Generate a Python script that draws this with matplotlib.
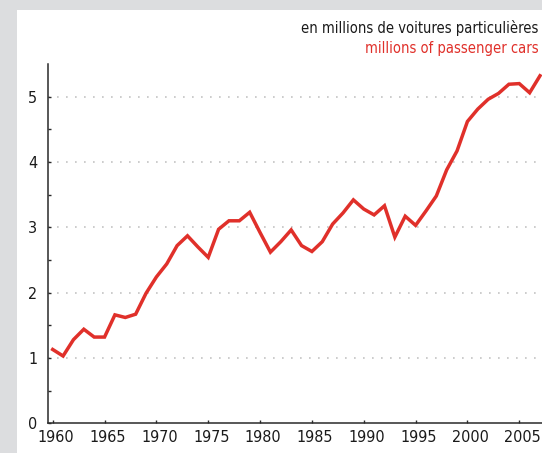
import numpy as np
import matplotlib
matplotlib.use("Agg")
import matplotlib.pyplot as plt
from matplotlib import font_manager
from matplotlib.transforms import ScaledTranslation

years = list(range(1960, 2008))
cars = [1.13, 1.03, 1.28, 1.44, 1.32, 1.32, 1.66, 1.62, 1.67, 1.99,
        2.24, 2.44, 2.72, 2.87, 2.70, 2.54, 2.97, 3.10, 3.10, 3.23,
        2.92, 2.62, 2.78, 2.96, 2.72, 2.63, 2.78, 3.05, 3.22, 3.42,
        3.28, 3.19, 3.33, 2.85, 3.17, 3.03, 3.25, 3.48, 3.88, 4.17,
        4.62, 4.81, 4.96, 5.05, 5.19, 5.20, 5.06, 5.32]
x_ticks = list(range(1960, 2006, 5))
y_ticks = [0, 1, 2, 3, 4, 5]
title_fr = "en millions de voitures particulières"
title_en = "millions of passenger cars"

names = {f.name for f in font_manager.fontManager.ttflist}
if "Liberation Sans Narrow" in names:
    FONT = dict(family=["Liberation Sans Narrow", "DejaVu Sans"])
else:
    FONT = dict(family=["DejaVu Sans"], stretch="condensed")

RED = "#e0302a"
GRAY_BG = "#dcdddf"
W, H = 542, 453

fig = plt.figure(figsize=(W / 100, H / 100), dpi=100)
fig.patch.set_facecolor("white")
fig.patches.append(plt.Rectangle((0, 0), 16.7 / W, 1, transform=fig.transFigure,
                                 facecolor=GRAY_BG, edgecolor="none", zorder=0))
fig.patches.append(plt.Rectangle((0, 1 - 10 / H), 1, 10 / H, transform=fig.transFigure,
                                 facecolor=GRAY_BG, edgecolor="none", zorder=0))

left, bottom, top = 48.3, 423.3, 64.0
ax = fig.add_axes([left / W, 1 - bottom / H, (W - left) / W, (bottom - top) / H])
ax.set_facecolor("none")

ax.plot(years, cars, color=RED, lw=2.5, solid_joinstyle="miter", clip_on=False, zorder=3)

px_per_year = (540 - 52.7) / 47
x0 = 1960 - (52.7 - left) / px_per_year
ax.set_xlim(x0, x0 + (W - left) / px_per_year)
ax.set_ylim(0, 5.5)

for v in y_ticks[1:]:
    ax.axhline(v, color="#c4c4c4", lw=1.2, ls=(0, (1, 4.4)), zorder=1)

for s in ["top", "right"]:
    ax.spines[s].set_visible(False)
for s in ["left", "bottom"]:
    ax.spines[s].set_color("#2a2a2a")
    ax.spines[s].set_linewidth(1.1)

ax.set_xticks(x_ticks)
ax.set_xticklabels([str(y) for y in x_ticks])
ax.set_yticks(y_ticks)
ax.set_yticklabels([str(v) for v in y_ticks])
ax.set_yticks(np.arange(0.5, 5.5, 1.0), minor=True)
ax.tick_params(axis="x", direction="in", length=2, width=1, color="#2a2a2a", pad=5)
ax.tick_params(axis="y", which="both", direction="in", length=2.5, width=1,
               color="#2a2a2a", pad=8)
for lab in ax.get_xticklabels():
    lab.set_fontproperties(font_manager.FontProperties(size=11.5, **FONT))
    lab.set_color("#1a1a1a")
    lab.set_transform(lab.get_transform() + ScaledTranslation(3 / 100, 0, fig.dpi_scale_trans))
for lab in ax.get_yticklabels():
    lab.set_fontproperties(font_manager.FontProperties(size=11.5, **FONT))
    lab.set_color("#1a1a1a")

fig.text(538.3 / W, 1 - 33.3 / H, title_fr, ha="right", va="baseline",
         color="#1a1a1a", fontproperties=font_manager.FontProperties(size=10.5, **FONT))
fig.text(538.3 / W, 1 - 52.7 / H, title_en, ha="right", va="baseline",
         color=RED, fontproperties=font_manager.FontProperties(size=10.5, **FONT))

fig.savefig("out.png", dpi=100, facecolor="white")
